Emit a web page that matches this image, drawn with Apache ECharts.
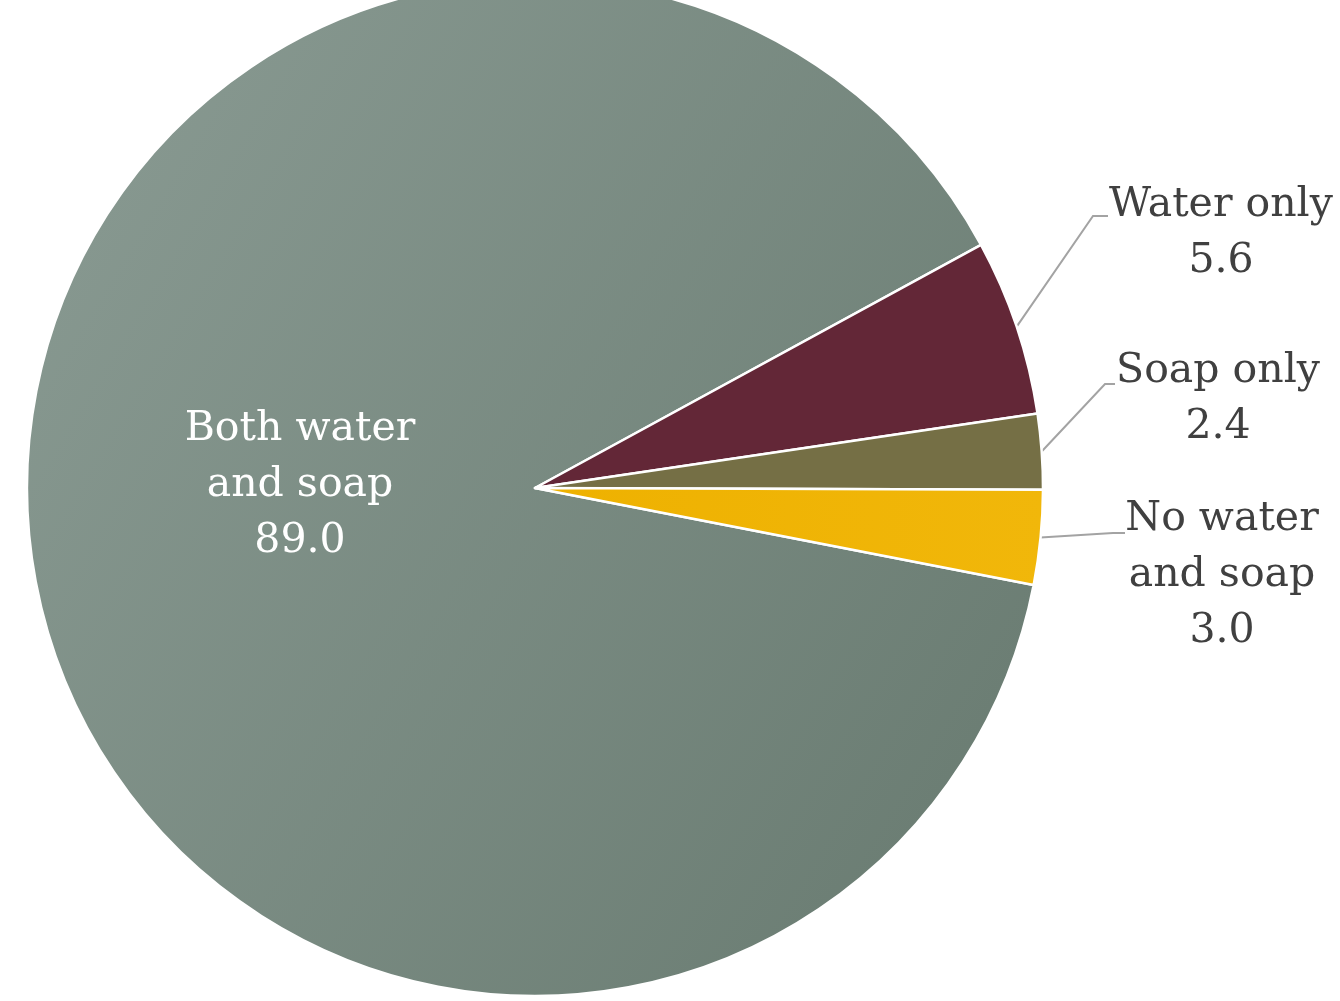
<!DOCTYPE html>
<html>
<head>
<meta charset="utf-8">
<script src="https://cdn.jsdelivr.net/npm/echarts@6/dist/echarts.min.js"></script>
<style>
  html, body { margin: 0; padding: 0; background: #ffffff; }
  #chart { width: 1340px; height: 1001px; }
</style>
</head>
<body>
<div id="chart"></div>
<script>
// Hand-washing facilities: share of households (%)
const categories = ['Both water\nand soap', 'Water only', 'Soap only', 'No water\nand soap'];
const shares = [89.0, 5.6, 2.4, 3.0];

const FONT = '"DejaVu Serif", "Liberation Serif", serif';
const sliceColors = [
  { type: 'linear', x: 0, y: 0.2, x2: 1, y2: 0.8,
    colorStops: [{ offset: 0, color: '#889991' }, { offset: 1, color: '#6a7c72' }] },
  '#632737',
  '#756f45',
  { type: 'linear', x: 0, y: 0, x2: 1, y2: 0,
    colorStops: [{ offset: 0, color: '#eeb100' }, { offset: 1, color: '#f1b70a' }] }
];

// Text block placement for each label (left/top of the block, leader end offsets)
const labelPlacement = [
  { cx: 300, cy: 485 },
  { left: 1109, top: 177, lineY: 39, lineEnd: -1, elbow: 15 },
  { left: 1106, top: 343, lineY: 41, lineEnd: 9, elbow: 10 },
  { left: 1110, top: 491, lineY: 42, lineEnd: 15, elbow: 12 }
];

function blockText(name, value) {
  const lines = name.split('\n').concat([value.toFixed(1)]);
  return lines.map(l => '{t|' + l + '}').join('\n');
}

const data = categories.map((name, i) => ({
  name: name,
  value: shares[i],
  itemStyle: { color: sliceColors[i] },
  label: i === 0
    ? { position: 'inside', rich: { t: { color: '#ffffff' } } }
    : { position: 'outside', rich: { t: { color: '#404040' } } },
  labelLine: { show: i !== 0 }
}));

const chart = echarts.init(document.getElementById('chart'), null, { renderer: 'canvas' });
chart.setOption({
  backgroundColor: '#ffffff',
  animation: false,
  series: [{
    type: 'pie',
    center: [535, 488],
    radius: [0, 508],
    startAngle: 349,
    clockwise: true,
    avoidLabelOverlap: false,
    itemStyle: { borderColor: '#ffffff', borderWidth: 2.5 },
    emphasis: { disabled: true },
    label: {
      show: true,
      formatter: p => blockText(p.name, p.value),
      rich: {
        t: { width: 226, align: 'center', fontFamily: FONT, fontSize: 41, lineHeight: 56 }
      }
    },
    labelLine: {
      show: true,
      length: 30,
      length2: 15,
      lineStyle: { color: '#a3a3a3', width: 2 }
    },
    labelLayout: function (p) {
      const pl = labelPlacement[p.dataIndex];
      if (p.dataIndex === 0) {
        return { x: pl.cx, y: pl.cy, align: 'center', verticalAlign: 'middle' };
      }
      const start = p.labelLinePoints ? p.labelLinePoints[0] : null;
      const yLine = pl.top + pl.lineY;
      const xEnd = pl.left + pl.lineEnd;
      const out = { x: pl.left - 1, y: pl.top, align: 'left', verticalAlign: 'top' };
      if (start) {
        out.labelLinePoints = [start, [xEnd - pl.elbow, yLine], [xEnd, yLine]];
      }
      return out;
    },
    data: data
  }]
});
</script>
</body>
</html>
